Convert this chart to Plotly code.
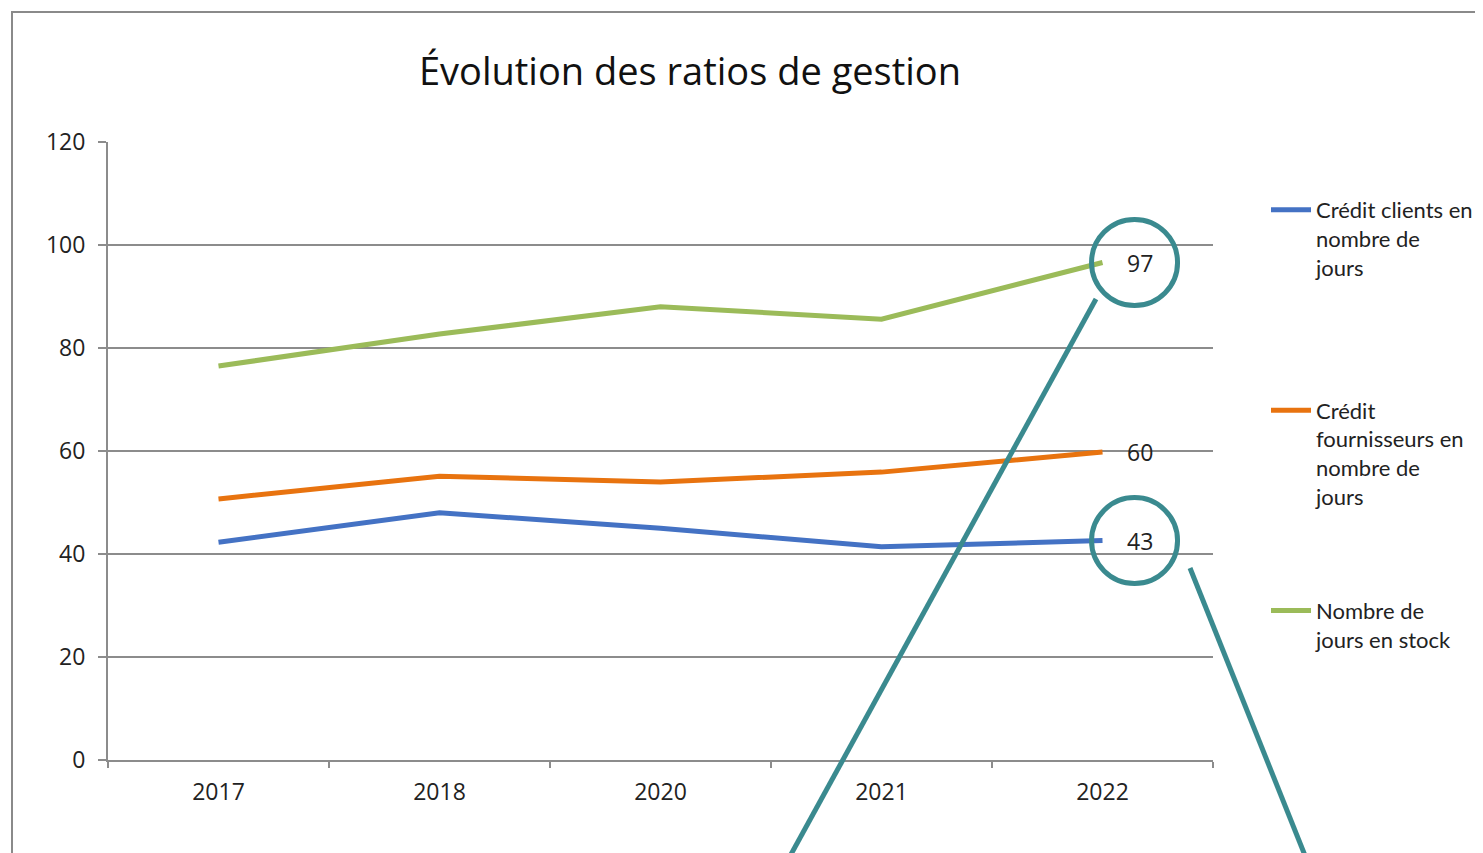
import plotly.graph_objects as go

# ---- data ----
years = ["2017", "2018", "2020", "2021", "2022"]
credit_clients = [42.3, 48.0, 45.0, 41.4, 42.6]
credit_fournisseurs = [50.7, 55.1, 54.0, 55.9, 59.8]
jours_stock = [76.5, 82.7, 88.0, 85.6, 96.6]
series_names = [
    "Crédit clients en<br>nombre de<br>jours<br>&nbsp;",
    "Crédit<br>fournisseurs en<br>nombre de<br>jours",
    "Nombre de<br>jours en stock",
]
y_ticks = [0, 20, 40, 60, 80, 100, 120]

colors = ["#4472C4", "#E8730F", "#9BBB59"]
teal = "#3A8A8F"
grid = "#8C8C8C"
font_family = "Open Sans, Liberation Sans, Arial, sans-serif"
legend_family = "Lato, Open Sans, sans-serif"

OFF = 8  # page body margin
W, H = 1483 - OFF, 853 - OFF
L, T = 108 - OFF, 142 - OFF
R = W - (1213 - OFF)
B = H - (760 - OFF)
pw, ph = W - L - R, H - T - B


def px_x(p):
    return (p - OFF - L) / pw


def px_y(p):
    return (H - B - (p - OFF)) / ph


fig = go.Figure()
all_series = [credit_clients, credit_fournisseurs, jours_stock]
for name, vals, col in zip(series_names, all_series, colors):
    fig.add_trace(go.Scatter(
        x=years, y=vals, mode="lines", name=name,
        line=dict(color=col, width=5),
        legendgroup=name,
    ))

# end-value labels
last_idx = len(years) - 1
annotations = []
for vals in all_series:
    annotations.append(dict(
        x=last_idx, y=vals[-1], xref="x", yref="y",
        text=str(int(round(vals[-1]))), showarrow=False,
        xanchor="left", yanchor="middle", xshift=22,
        font=dict(family=font_family, size=23, color="#222222"),
    ))

shapes = []
# highlight circles around 97 and 43
for vals in (jours_stock, credit_clients):
    cx = last_idx + 0.145
    cy = vals[-1]
    rx, ry = 43 / (pw / 5), 43 / (ph / 120)
    shapes.append(dict(
        type="circle", xref="x", yref="y",
        x0=cx - rx, x1=cx + rx, y0=cy - ry, y1=cy + ry,
        line=dict(color=teal, width=5),
    ))
# teal callout lines
shapes.append(dict(type="line", xref="paper", yref="paper",
                   x0=px_x(1096), y0=px_y(299), x1=px_x(789), y1=px_y(858),
                   line=dict(color=teal, width=5)))
shapes.append(dict(type="line", xref="paper", yref="paper",
                   x0=px_x(1190), y0=px_y(568), x1=px_x(1306), y1=px_y(858),
                   line=dict(color=teal, width=5)))
# chart frame
shapes.append(dict(type="rect", xref="paper", yref="paper",
                   x0=px_x(12), y0=px_y(880), x1=px_x(1510), y1=px_y(12),
                   line=dict(color="#8A8A8A", width=2), layer="below"))

fig.update_layout(
    width=W, height=H,
    margin=dict(l=L, r=R, t=T, b=B, pad=0, autoexpand=False),
    paper_bgcolor="white", plot_bgcolor="white",
    font=dict(family=font_family, color="#222222"),
    title=dict(
        text="Évolution des ratios de gestion",
        x=(690 - OFF) / W, xanchor="center", y=1 - (72 - OFF) / H, yanchor="middle",
        font=dict(family=font_family, size=38, color="#111111"),
    ),
    showlegend=True,
    legend=dict(
        x=px_x(1266), y=px_y(189), xanchor="left", yanchor="top",
        font=dict(family=legend_family, size=22, color="#222222"),
        valign="top", tracegroupgap=83, itemwidth=40,
        bgcolor="rgba(0,0,0,0)",
    ),
    annotations=annotations,
    shapes=shapes,
)

fig.update_xaxes(
    type="category", range=[-0.5, 4.5],
    showgrid=False, showline=True, linecolor=grid, linewidth=2,
    ticks="outside", tickson="boundaries", ticklen=6, tickcolor=grid, tickwidth=2,
    tickfont=dict(family=font_family, size=23, color="#222222"),
    ticklabelstandoff=10,
)
fig.update_yaxes(
    range=[0, 120], tickvals=y_ticks,
    showgrid=True, gridcolor=grid, gridwidth=2,
    showline=True, linecolor=grid, linewidth=2,
    ticks="outside", ticklen=8, tickcolor=grid, tickwidth=2,
    tickfont=dict(family=font_family, size=23, color="#222222"),
    zeroline=False, ticklabelstandoff=8,
)

fig.write_html("out.html")
